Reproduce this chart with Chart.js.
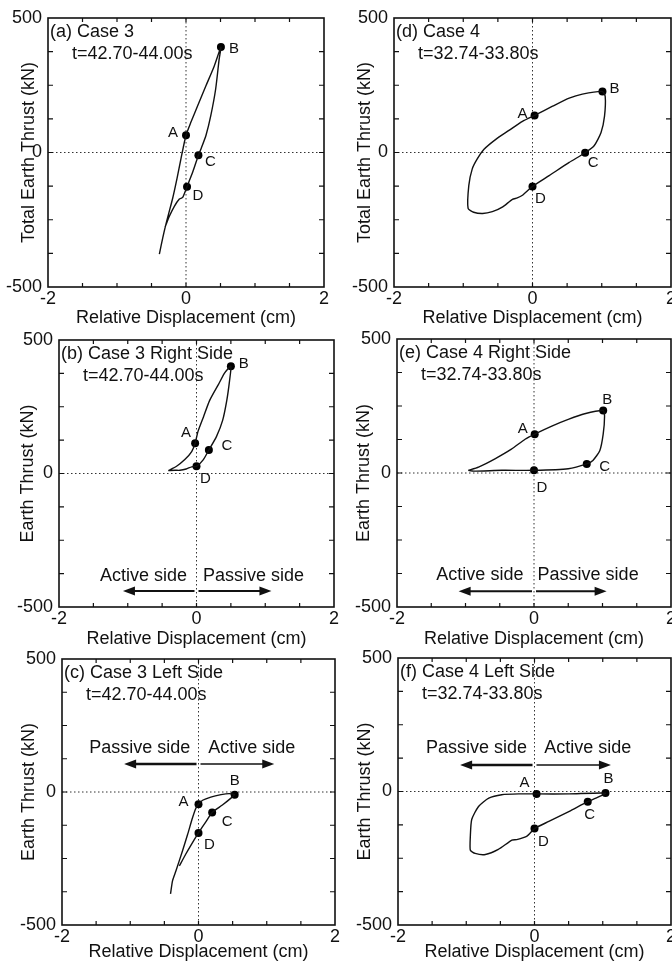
<!DOCTYPE html>
<html lang="en">
<head>
  <meta charset="UTF-8">
  <title>Earth thrust vs relative displacement</title>
  <script src="https://cdn.jsdelivr.net/npm/chart.js"></script>
  <style>
    html, body { margin: 0; padding: 0; background: #fff; width: 672px; height: 962px; overflow: hidden; }
    canvas { position: absolute; }
  </style>
</head>
<body>
  <canvas id="panelA"></canvas>
  <canvas id="panelD"></canvas>
  <canvas id="panelB"></canvas>
  <canvas id="panelE"></canvas>
  <canvas id="panelC"></canvas>
  <canvas id="panelF"></canvas>

<script>
// ---- data (x: cm, y: kN) ----
const pointNames = ['A', 'B', 'C', 'D'];
const xTickLabels = [-2, 0, 2];
const yTickLabels = [-500, 0, 500];

// (a) Case 3 total
const loopA_x = [-0.386, -0.337, -0.304, -0.255, -0.193, -0.13, -0.072, 0.0, 0.072, 0.169, 0.289, 0.41, 0.506, 0.48, 0.43, 0.36, 0.29, 0.22, 0.18, 0.10, 0.015, -0.048, -0.096, -0.169, -0.241, -0.304];
const loopA_y = [-378, -317, -280, -231, -170, -96, -22, 64, 113, 174, 248, 322, 392, 346, 236, 138, 64, 15, -10, -71, -127, -167, -173, -200, -237, -278];
const markA_x = [0.0, 0.506, 0.18, 0.015];
const markA_y = [64, 392, -10, -127];

// (d) Case 4 total
const loopD_x = [0.03, 0.29, 0.53, 0.72, 1.01, 1.05, 1.04, 0.99, 0.89, 0.76, 0.53, 0.24, 0.0, -0.145, -0.22, -0.29, -0.43, -0.58, -0.72, -0.85, -0.93, -0.92, -0.87, -0.80, -0.70, -0.53, -0.34, -0.145, 0.03];
const loopD_y = [138, 172, 202, 217, 227, 208, 135, 74, 25, -1, -37, -86, -126, -159, -169, -174, -202, -220, -227, -222, -208, -123, -61, -25, 12, 49, 82, 116, 138];
const markD_x = [0.03, 1.01, 0.76, 0.0];
const markD_y = [138, 227, -1, -126];

// (b) Case 3 right side
const loopB_x = [-0.41, -0.29, -0.17, -0.07, -0.02, 0.02, 0.10, 0.19, 0.32, 0.41, 0.50, 0.48, 0.44, 0.38, 0.29, 0.18, 0.10, 0.0, -0.07, -0.15, -0.24, -0.31, -0.41];
const loopB_y = [11, 27, 52, 82, 113, 156, 211, 273, 334, 377, 402, 346, 273, 199, 138, 88, 52, 27, 25, 17, 12, 12, 11];
const markB_x = [-0.02, 0.50, 0.18, 0.0];
const markB_y = [113, 402, 88, 27];

// (e) Case 4 right side
const loopE_x = [-0.96, -0.81, -0.57, -0.33, -0.13, 0.01, 0.26, 0.50, 0.74, 1.01, 1.03, 1.01, 0.96, 0.86, 0.77, 0.50, 0.0, -0.47, -0.88, -0.96];
const loopE_y = [10, 22, 53, 89, 126, 145, 175, 200, 221, 233, 212, 145, 83, 47, 34, 16, 10, 10, 7, 10];
const markE_x = [0.01, 1.01, 0.77, 0.0];
const markE_y = [145, 233, 34, 10];

// (c) Case 3 left side
const loopC_x = [-0.41, -0.38, -0.33, -0.235, -0.16, -0.09, -0.04, 0.0, 0.06, 0.18, 0.33, 0.45, 0.53, 0.48, 0.35, 0.20, 0.11, 0.0, -0.09, -0.19, -0.28];
const loopC_y = [-383, -333, -296, -222, -160, -99, -62, -46, -31, -19, -10, -6, -10, -22, -49, -77, -111, -154, -191, -235, -278];
const markC_x = [0.0, 0.53, 0.20, 0.0];
const markC_y = [-46, -10, -77, -154];

// (f) Case 4 left side
const loopF_x = [0.03, 0.51, 1.04, 0.90, 0.78, 0.51, 0.21, 0.0, -0.11, -0.26, -0.33, -0.53, -0.72, -0.87, -0.94, -0.94, -0.92, -0.82, -0.67, -0.48, -0.23, 0.03];
const loopF_y = [-9, -9, -6, -25, -38, -74, -112, -139, -167, -180, -182, -217, -236, -232, -220, -167, -105, -56, -25, -12, -9, -9];
const markF_x = [0.03, 1.04, 0.78, 0.0];
const markF_y = [-9, -6, -38, -139];

const FONT = 'Liberation Sans, Arial, Helvetica, sans-serif';

// layout of each panel on the page (canvas box + plot box, px)
const panels = [
  { id: 'panelA', left: 0,   top: 0,   width: 336, height: 329, plot: { l: 48,  t: 18,  r: 324, b: 287 }, yTitlePad: 18,
    xs: loopA_x, ys: loopA_y, mx: markA_x, my: markA_y, yTitle: 'Total Earth Thrust (kN)',
    title: ['(a) Case 3', 't=42.70-44.00s'],
    letters: [[-13, -2], [13, 2], [12, 7], [11, 9]], arrows: null },
  { id: 'panelD', left: 336, top: 0,   width: 354, height: 329, plot: { l: 394, t: 18,  r: 671, b: 287 }, yTitlePad: 18,
    xs: loopD_x, ys: loopD_y, mx: markD_x, my: markD_y, yTitle: 'Total Earth Thrust (kN)',
    title: ['(d) Case 4', 't=32.74-33.80s'],
    letters: [[-12, -2], [12, -3], [8, 10], [8, 12]], arrows: null },
  { id: 'panelB', left: 0,   top: 320, width: 346, height: 330, plot: { l: 59,  t: 340, r: 334, b: 607 }, yTitlePad: 17,
    xs: loopB_x, ys: loopB_y, mx: markB_x, my: markB_y, yTitle: 'Earth Thrust (kN)',
    title: ['(b) Case 3 Right Side', 't=42.70-44.00s'],
    letters: [[-9, -10], [13, -2], [18, -4], [9, 13]],
    arrows: { textY: -385, arrowY: -440, leftText: 'Active side', leftX: -0.77, leftEnd: -1.07, rightText: 'Passive side', rightX: 0.83, rightEnd: 1.09 } },
  { id: 'panelE', left: 336, top: 320, width: 354, height: 330, plot: { l: 397, t: 339, r: 671, b: 607 }, yTitlePad: 17,
    xs: loopE_x, ys: loopE_y, mx: markE_x, my: markE_y, yTitle: 'Earth Thrust (kN)',
    title: ['(e) Case 4 Right Side', 't=32.74-33.80s'],
    letters: [[-12, -5], [4, -11], [18, 3], [8, 18]],
    arrows: { textY: -382, arrowY: -441, leftText: 'Active side', leftX: -0.79, leftEnd: -1.1, rightText: 'Passive side', rightX: 0.79, rightEnd: 1.06 } },
  { id: 'panelC', left: 0,   top: 640, width: 346, height: 323, plot: { l: 62,  t: 659, r: 335, b: 925 }, yTitlePad: 18,
    xs: loopC_x, ys: loopC_y, mx: markC_x, my: markC_y, yTitle: 'Earth Thrust (kN)',
    title: ['(c) Case 3 Left Side', 't=42.70-44.00s'],
    letters: [[-15, -2], [0, -14], [15, 9], [11, 12]],
    arrows: { textY: 165, arrowY: 105, leftText: 'Passive side', leftX: -0.86, leftEnd: -1.09, rightText: 'Active side', rightX: 0.78, rightEnd: 1.11, boldLeft: true } },
  { id: 'panelF', left: 336, top: 640, width: 354, height: 323, plot: { l: 398, t: 658, r: 671, b: 925 }, yTitlePad: 18,
    xs: loopF_x, ys: loopF_y, mx: markF_x, my: markF_y, yTitle: 'Earth Thrust (kN)',
    title: ['(f) Case 4 Left Side', 't=32.74-33.80s'],
    letters: [[-12, -11], [3, -14], [2, 13], [9, 13]],
    arrows: { textY: 161, arrowY: 99, leftText: 'Passive side', leftX: -0.85, leftEnd: -1.09, rightText: 'Active side', rightX: 0.78, rightEnd: 1.12, boldLeft: true } }
];

function drawArrow(ctx, x1, x2, y, width) {
  const dir = Math.sign(x2 - x1);
  ctx.lineWidth = width;
  ctx.beginPath();
  ctx.moveTo(x1, y);
  ctx.lineTo(x2 - dir * 8, y);
  ctx.stroke();
  ctx.beginPath();
  ctx.moveTo(x2, y);
  ctx.lineTo(x2 - dir * 12, y - 4.5);
  ctx.lineTo(x2 - dir * 12, y + 4.5);
  ctx.closePath();
  ctx.fill();
}

// box, inside ticks, dotted zero lines, labels and arrows
const framePlugin = {
  id: 'frame',
  beforeDatasetsDraw(chart) {
    const { ctx, chartArea: a, scales: { x, y } } = chart;
    const x0 = x.getPixelForValue(0), y0 = y.getPixelForValue(0);
    ctx.save();
    ctx.strokeStyle = '#333';
    ctx.lineWidth = 1;
    ctx.setLineDash([1.5, 2.5]);
    ctx.beginPath();
    ctx.moveTo(x0, a.top); ctx.lineTo(x0, a.bottom);
    ctx.moveTo(a.left, y0); ctx.lineTo(a.right, y0);
    ctx.stroke();
    ctx.restore();
  },
  afterDraw(chart, args, opts) {
    const { ctx, chartArea: a, scales: { x, y } } = chart;
    ctx.save();
    ctx.strokeStyle = '#111';
    ctx.fillStyle = '#111';
    ctx.lineWidth = 1.6;
    ctx.strokeRect(a.left, a.top, a.right - a.left, a.bottom - a.top);

    ctx.lineWidth = 1.2;
    ctx.beginPath();
    x.ticks.forEach(t => {
      const px = x.getPixelForValue(t.value);
      if (px <= a.left + 1 || px >= a.right - 1) return;
      ctx.moveTo(px, a.bottom); ctx.lineTo(px, a.bottom - 4);
      ctx.moveTo(px, a.top); ctx.lineTo(px, a.top + 4);
    });
    y.ticks.forEach(t => {
      const py = y.getPixelForValue(t.value);
      if (py <= a.top + 1 || py >= a.bottom - 1) return;
      ctx.moveTo(a.left, py); ctx.lineTo(a.left + 5, py);
      ctx.moveTo(a.right, py); ctx.lineTo(a.right - 5, py);
    });
    ctx.stroke();

    // panel title
    ctx.font = '18px ' + FONT;
    ctx.textBaseline = 'middle';
    ctx.textAlign = 'left';
    ctx.fillText(opts.title[0], a.left + 2, a.top + 14);
    ctx.fillText(opts.title[1], a.left + 24, a.top + 36);

    // point letters
    ctx.font = '15px ' + FONT;
    ctx.textAlign = 'center';
    const marks = chart.getDatasetMeta(1).data;
    marks.forEach((pt, i) => {
      const off = opts.letters[i];
      ctx.fillText(pointNames[i], pt.x + off[0], pt.y + off[1]);
    });

    // active / passive arrows
    const ar = opts.arrows;
    if (ar) {
      ctx.font = '18px ' + FONT;
      const ty = y.getPixelForValue(ar.textY);
      const ay = y.getPixelForValue(ar.arrowY);
      const x0 = x.getPixelForValue(0);
      ctx.fillText(ar.leftText, x.getPixelForValue(ar.leftX), ty);
      ctx.fillText(ar.rightText, x.getPixelForValue(ar.rightX), ty);
      drawArrow(ctx, x0 - 2, x.getPixelForValue(ar.leftEnd), ay, ar.boldLeft ? 2.6 : 2);
      drawArrow(ctx, x0 + 2, x.getPixelForValue(ar.rightEnd), ay, ar.boldLeft ? 1.5 : 2);
    }
    ctx.restore();
  }
};

panels.forEach(p => {
  const canvas = document.getElementById(p.id);
  canvas.width = p.width;
  canvas.height = p.height;
  canvas.style.left = p.left + 'px';
  canvas.style.top = p.top + 'px';

  const font = { family: FONT, size: 18 };
  new Chart(canvas.getContext('2d'), {
    type: 'scatter',
    data: {
      datasets: [{
        data: p.xs.map((v, i) => ({ x: v, y: p.ys[i] })),
        showLine: true,
        borderColor: '#111',
        borderWidth: 1.4,
        pointRadius: 0,
        tension: 0.2
      }, {
        data: p.mx.map((v, i) => ({ x: v, y: p.my[i] })),
        showLine: false,
        pointRadius: 4,
        backgroundColor: '#000',
        borderColor: '#000',
        borderWidth: 0
      }]
    },
    options: {
      responsive: false,
      animation: false,
      layout: { padding: { left: 0, top: p.plot.t - p.top, right: p.left + p.width - p.plot.r, bottom: 0 } },
      plugins: {
        legend: { display: false },
        tooltip: { enabled: false },
        frame: { title: p.title, letters: p.letters, arrows: p.arrows }
      },
      scales: {
        x: {
          type: 'linear', min: -2, max: 2,
          grid: { display: false, drawTicks: false },
          border: { display: false },
          ticks: {
            stepSize: 0.5, autoSkip: false, maxRotation: 0, padding: 1, color: '#111', font,
            callback: v => xTickLabels.includes(v) ? String(v) : ''
          },
          title: { display: true, text: 'Relative Displacement (cm)', color: '#111', font, padding: 0 },
          afterFit(s) { s.height = p.top + p.height - p.plot.b; }
        },
        y: {
          type: 'linear', min: -500, max: 500,
          grid: { display: false, drawTicks: false },
          border: { display: false },
          ticks: {
            stepSize: 125, autoSkip: false, padding: 6, color: '#111', font,
            callback: v => yTickLabels.includes(v) ? String(v) : ''
          },
          title: { display: true, text: p.yTitle, color: '#111', font, padding: { top: p.yTitlePad, bottom: 0 } },
          afterFit(s) { s.width = p.plot.l - p.left; }
        }
      }
    },
    plugins: [framePlugin]
  });
});
</script>
</body>
</html>
